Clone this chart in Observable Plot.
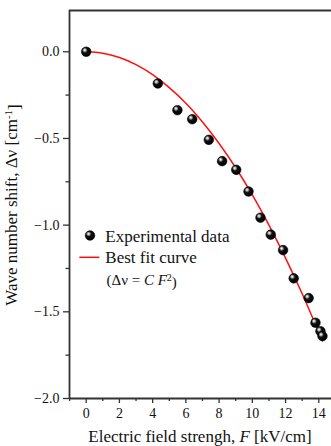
<!DOCTYPE html>
<html>
<head>
<meta charset="utf-8">
<script src="https://cdn.jsdelivr.net/npm/d3@7"></script>
<script src="https://cdn.jsdelivr.net/npm/@observablehq/plot@0.6"></script>
<style>
  html, body { margin: 0; padding: 0; background: #fff; }
  #chart svg { display: block; }
  #chart svg, #chart svg text, #chart svg g { font-family: 'Liberation Serif', 'Times New Roman', serif !important; }
</style>
</head>
<body>
<div id="chart"></div>
<script>
// Experimental data: electric field F [kV/cm] and wave number shift Δν [cm^-1]
const fieldF = [0, 4.31, 5.49, 6.38, 7.38, 8.18, 9.03, 9.77, 10.49, 11.11, 11.85, 12.49, 13.39, 13.8, 14.1, 14.22];
const shiftDv = [0, -0.183, -0.337, -0.389, -0.508, -0.631, -0.681, -0.806, -0.957, -1.055, -1.144, -1.307, -1.421, -1.563, -1.612, -1.640];

// Best fit curve (Δν = C F²)
const fitF = [0, 1, 2, 3, 4, 5, 6, 7, 8, 9, 10, 11, 12, 13, 14.22];
const fitDv = [0, -0.008, -0.033, -0.074, -0.132, -0.207, -0.297, -0.405, -0.529, -0.669, -0.826, -1.0, -1.19, -1.396, -1.668];

// Tick values
const xMajorTicks = [0, 2, 4, 6, 8, 10, 12, 14];
const xMinorTicks = [-1, 1, 3, 5, 7, 9, 11, 13];
const yMajorTicks = [0, -0.5, -1.0, -1.5, -2.0];
const yMinorTicks = [-0.25, -0.75, -1.25, -1.75];

const points = fieldF.map((f, i) => ({F: f, dv: shiftDv[i]}));
const fit = fitF.map((f, i) => ({F: f, dv: fitDv[i]}));

const W = 331, H = 446;
const axisColor = "#333";
const font = "'Liberation Serif', 'Times New Roman', serif";

const plot = Plot.plot({
  width: W,
  height: H,
  marginLeft: 69,
  marginRight: 0,
  marginTop: 10,
  marginBottom: 48,
  style: {fontFamily: font, fontSize: "14px", color: "#111", background: "white"},
  x: {domain: [-1.005, 14.765], label: null},
  y: {domain: [-2.0, 0.238], label: null},
  marks: [
    Plot.axisY({ticks: yMajorTicks, tickFormat: d3.format(".1f"), tickSize: 6, tickPadding: 4, stroke: axisColor, strokeWidth: 1.3, fontSize: 14, fontFamily: font, fill: "#111", label: null}),
    Plot.axisY({ticks: yMinorTicks, tickFormat: () => "", tickSize: 3.5, stroke: axisColor, strokeWidth: 1.3, label: null}),
    Plot.axisX({ticks: xMajorTicks, tickFormat: d3.format("d"), tickSize: 5, tickPadding: 5, stroke: axisColor, strokeWidth: 1.3, fontSize: 14, fontFamily: font, fill: "#111", label: null}),
    Plot.axisX({ticks: xMinorTicks, tickFormat: () => "", tickSize: 3, stroke: axisColor, strokeWidth: 1.3, label: null}),
    Plot.ruleX([-1.005], {stroke: axisColor, strokeWidth: 1.8}),
    Plot.ruleY([-2.0], {stroke: axisColor, strokeWidth: 1.8}),
    Plot.ruleY([0.238], {stroke: axisColor, strokeWidth: 1.8}),
    Plot.line(fit, {x: "F", y: "dv", stroke: "#ff1010", strokeWidth: 1.5, curve: "catmull-rom"}),
    Plot.dot(points, {x: "F", y: "dv", r: 4.8, fill: "url(#ball)", stroke: "#000", strokeWidth: 0.6})
  ]
});

const svg = d3.select(plot);
svg.style("font-family", font);
const defs = svg.insert("defs", ":first-child");
const grad = defs.append("radialGradient").attr("id", "ball")
  .attr("cx", "0.38").attr("cy", "0.36").attr("r", "0.6").attr("fx", "0.34").attr("fy", "0.32");
grad.append("stop").attr("offset", "0%").attr("stop-color", "#ffffff");
grad.append("stop").attr("offset", "18%").attr("stop-color", "#bbbbbb");
grad.append("stop").attr("offset", "45%").attr("stop-color", "#111111");
grad.append("stop").attr("offset", "100%").attr("stop-color", "#000000");

// Axis titles
const xt = svg.append("text")
  .attr("x", 200).attr("y", 442)
  .attr("text-anchor", "middle")
  .style("font-size", "17px").attr("fill", "#111");
xt.append("tspan").text("Electric field strengh, ");
xt.append("tspan").style("font-style", "italic").text("F");
xt.append("tspan").text(" [kV/cm]");

const yt = svg.append("text")
  .attr("transform", "translate(17,205) rotate(-90)")
  .attr("text-anchor", "middle")
  .style("font-size", "17px").attr("fill", "#111");
yt.append("tspan").text("Wave number shift, \u0394\u03bd [cm");
yt.append("tspan").attr("dy", "-0.45em").style("font-size", "11px").text("-1");
yt.append("tspan").attr("dy", "0.45em").text("]");

// Legend
const lg = svg.append("g").attr("fill", "#111").attr("text-anchor", "start");
lg.append("circle").attr("cx", 90).attr("cy", 235.5).attr("r", 4.8)
  .attr("fill", "url(#ball)").attr("stroke", "#000").attr("stroke-width", 0.6);
lg.append("text").attr("x", 105.3).attr("y", 241.7).attr("text-anchor", "start").style("font-size", "17px").text("Experimental data");
lg.append("line").attr("x1", 79.3).attr("x2", 99.3).attr("y1", 257.3).attr("y2", 257.3)
  .attr("stroke", "#ff1010").attr("stroke-width", 1.5);
lg.append("text").attr("x", 105.3).attr("y", 263.3).attr("text-anchor", "start").style("font-size", "17px").text("Best fit curve");
const eq = lg.append("text").attr("x", 106.5).attr("y", 285).attr("text-anchor", "start").style("font-size", "15px");
eq.append("tspan").text("(\u0394\u03bd = ");
eq.append("tspan").style("font-style", "italic").text("C F");
eq.append("tspan").attr("dy", "-0.45em").style("font-size", "10px").text("2");
eq.append("tspan").attr("dy", "0.45em").text(")");

document.getElementById("chart").appendChild(plot);
</script>
</body>
</html>
